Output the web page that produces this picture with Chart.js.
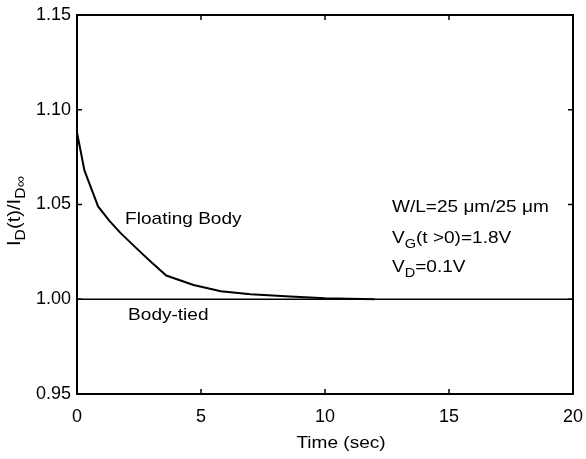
<!DOCTYPE html>
<html>
<head>
<meta charset="utf-8">
<script src="https://cdn.jsdelivr.net/npm/chart.js@4/dist/chart.umd.min.js"></script>
<style>
  html, body { margin: 0; padding: 0; background: #fff; }
  #wrap { width: 586px; height: 459px; }
</style>
</head>
<body>
<div id="wrap"><canvas id="chart"></canvas></div>
<script>
// Floating body transient
const floatTime  = [0, 0.3, 0.85, 1.3, 1.75, 2.55, 3.0, 3.6, 4.7, 5.8, 7.0, 8.6, 10.0, 12.0];
const floatRatio = [1.088, 1.068, 1.049, 1.0415, 1.035, 1.025, 1.0195, 1.0125, 1.0075, 1.0042, 1.0026, 1.0015, 1.0005, 1.0];

// Body-tied reference
const tiedTime  = [0, 20];
const tiedRatio = [1.0, 1.0];

// Ticks
const xTicks = [0, 5, 10, 15, 20];
const xTickLabels = ['0', '5', '10', '15', '20'];
const yTicks = [0.95, 1.00, 1.05, 1.10, 1.15];
const yTickLabels = ['0.95', '1.00', '1.05', '1.10', '1.15'];

const FONT = '"Liberation Sans", Arial, Helvetica, sans-serif';

// Text notes placed in data units
const notes = [
  { x: 1.94, y: 1.0395, parts: [['Floating Body', 0]] },
  { x: 2.06, y: 0.989,  parts: [['Body-tied', 0]] },
  { x: 12.7, y: 1.0458, parts: [['W/L=25 \u03bcm/25 \u03bcm', 0]] },
  { x: 12.7, y: 1.0295, parts: [['V', 0], ['G', 1], ['(t >0)=1.8V', 0]] },
  { x: 12.7, y: 1.0142, parts: [['V', 0], ['D', 1], ['=0.1V', 0]] }
];

const toPoints = (xs, ys) => xs.map((x, i) => ({ x: x, y: ys[i] }));

// Draw text with subscripts, slightly stretched like the scan
const drawRich = (ctx, parts, x, y, size) => {
  ctx.save();
  ctx.translate(x, y);
  ctx.scale(1.12, 1);
  let cx = 0;
  parts.forEach(([t, sub]) => {
    ctx.font = (sub ? Math.round(size * 0.75) : size) + 'px ' + FONT;
    ctx.fillText(t, cx, sub ? size * 0.3 : 0);
    cx += ctx.measureText(t).width;
  });
  ctx.restore();
};

// Frame, inward ticks, notes and axis titles
const decorPlugin = {
  id: 'decor',
  afterDraw(chart) {
    const ctx = chart.ctx;
    const a = chart.chartArea;
    const xs = chart.scales.x;
    const ys = chart.scales.y;
    ctx.save();
    ctx.strokeStyle = '#000';
    ctx.lineWidth = 2;
    ctx.strokeRect(a.left, a.top, a.right - a.left, a.bottom - a.top);

    ctx.lineWidth = 1.5;
    const tl = 5;
    ctx.beginPath();
    xTicks.forEach(v => {
      const px = xs.getPixelForValue(v);
      ctx.moveTo(px, a.bottom); ctx.lineTo(px, a.bottom - tl);
      ctx.moveTo(px, a.top); ctx.lineTo(px, a.top + tl);
    });
    yTicks.forEach(v => {
      const py = ys.getPixelForValue(v);
      ctx.moveTo(a.left, py); ctx.lineTo(a.left + tl, py);
      ctx.moveTo(a.right, py); ctx.lineTo(a.right - tl, py);
    });
    ctx.stroke();

    ctx.fillStyle = '#000';
    ctx.textBaseline = 'alphabetic';
    ctx.textAlign = 'left';
    notes.forEach(n => {
      drawRich(ctx, n.parts, xs.getPixelForValue(n.x), ys.getPixelForValue(n.y), 17);
    });

    // x axis title
    ctx.font = '17px ' + FONT;
    const title = 'Time (sec)';
    const w = ctx.measureText(title).width * 1.12;
    drawRich(ctx, [[title, 0]], (a.left + a.right) / 2 - w / 2 + 16, 448, 17);

    // y axis title, rotated
    ctx.save();
    ctx.translate(20, 246);
    ctx.rotate(-Math.PI / 2);
    drawRich(ctx, [['I', 0], ['D', 1], ['(t)/I', 0], ['D\u221e', 1]], 0, 0, 18);
    ctx.restore();

    ctx.restore();
  }
};

new Chart(document.getElementById('chart'), {
  type: 'line',
  data: {
    datasets: [
      {
        label: 'Floating Body',
        data: toPoints(floatTime, floatRatio),
        borderColor: '#000',
        borderWidth: 2,
        pointRadius: 0,
        tension: 0,
        fill: false
      },
      {
        label: 'Body-tied',
        data: toPoints(tiedTime, tiedRatio),
        borderColor: '#000',
        borderWidth: 1.5,
        pointRadius: 0,
        fill: false
      }
    ]
  },
  options: {
    responsive: true,
    maintainAspectRatio: false,
    animation: false,
    layout: { padding: { top: 15, right: 13, left: 0, bottom: 0 } },
    plugins: {
      legend: { display: false },
      tooltip: { enabled: false }
    },
    scales: {
      x: {
        type: 'linear',
        min: 0,
        max: 20,
        grid: { display: false, drawTicks: false },
        border: { display: false },
        afterBuildTicks: s => { s.ticks = xTicks.map(v => ({ value: v })); },
        afterFit: s => { s.height = 65; s.paddingLeft = 0; s.paddingRight = 0; },
        ticks: {
          padding: 12,
          color: '#000',
          font: { family: FONT, size: 18 },
          maxRotation: 0,
          callback: (v, i) => xTickLabels[i]
        }
      },
      y: {
        type: 'linear',
        min: 0.95,
        max: 1.15,
        grid: { display: false, drawTicks: false },
        border: { display: false },
        afterBuildTicks: s => { s.ticks = yTicks.map(v => ({ value: v })); },
        afterFit: s => { s.width = 77; s.paddingTop = 0; s.paddingBottom = 0; },
        ticks: {
          padding: 6,
          color: '#000',
          font: { family: FONT, size: 18 },
          callback: (v, i) => yTickLabels[i]
        }
      }
    }
  },
  plugins: [decorPlugin]
});
</script>
</body>
</html>
